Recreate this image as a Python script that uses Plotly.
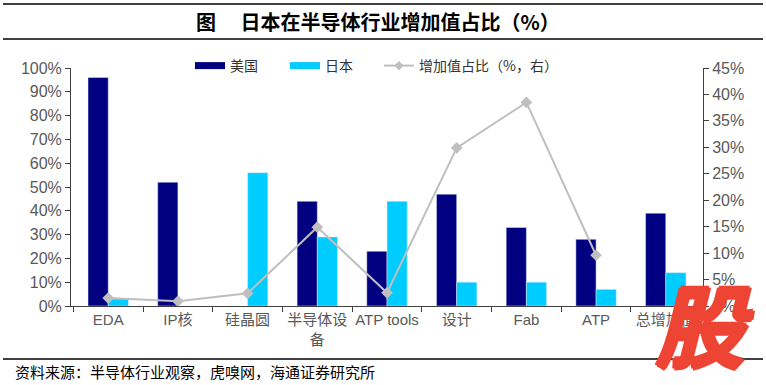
import plotly.graph_objects as go

categories = ["EDA", "IP核", "硅晶圆", "半导体设<br>备", "ATP tools", "设计", "Fab", "ATP", "总增加值"]
us_share = [0.96, 0.52, None, 0.44, 0.23, 0.47, 0.33, 0.28, 0.39]
jp_share = [0.03, None, 0.56, 0.29, 0.44, 0.10, 0.10, 0.07, 0.14]
value_added = [0.015, 0.009, 0.024, 0.149, 0.025, 0.299, 0.385, 0.096, None]
left_ticks = [i / 10 for i in range(11)]
right_ticks = [i / 20 for i in range(10)]

US_C = "#000080"
JP_C = "#00CCFF"
LINE_C = "#BFBFBF"
TXT = "#595959"
CJK = "Noto Sans CJK SC"
LAT = "Liberation Sans, Arial, " + CJK
WM_C = "#EE4433"

L, R, T, B = 71, 63, 68, 79
W, H = 766, 385
PW = W - L - R
PH = H - T - B

def px(x):
    return (x - L) / PW

def py(y):
    return (H - B - y) / PH

fig = go.Figure()
fig.add_trace(go.Bar(x=categories, y=us_share, marker_color=US_C, name="美国", showlegend=False))
fig.add_trace(go.Bar(x=categories, y=jp_share, marker_color=JP_C, name="日本", showlegend=False))
fig.add_trace(go.Scatter(x=categories, y=value_added, yaxis="y2", mode="lines+markers",
                         line=dict(color=LINE_C, width=2),
                         marker=dict(symbol="diamond", size=9, color=LINE_C),
                         name="增加值占比（%，右）", showlegend=False))
# legend entries
fig.add_trace(go.Scatter(x=[None], y=[None], mode="lines", line=dict(color=US_C, width=7),
                         name="美国", legend="legend"))
fig.add_trace(go.Scatter(x=[None], y=[None], mode="lines", line=dict(color=JP_C, width=7),
                         name="日本", legend="legend2"))
fig.add_trace(go.Scatter(x=[None], y=[None], mode="lines+markers", line=dict(color=LINE_C, width=2),
                         marker=dict(symbol="diamond", size=7, color=LINE_C),
                         name="增加值占比（%，右）", legend="legend3"))

leg_common = dict(orientation="h", xanchor="left", y=py(66), yanchor="middle",
                  font=dict(family=CJK, size=14, color="#333333"), bgcolor="rgba(0,0,0,0)")

fig.update_layout(
    width=W, height=H,
    margin=dict(l=L, r=R, t=T, b=B, autoexpand=False),
    paper_bgcolor="white", plot_bgcolor="white",
    barmode="group", bargap=0.42, bargroupgap=0,
    font=dict(family=LAT, color=TXT, size=13),
    xaxis=dict(type="category", tickson="boundaries", ticks="outside", ticklen=5, tickangle=0,
               tickcolor="#404040", showline=True, linecolor="#404040", linewidth=1,
               tickfont=dict(family=LAT, size=15, color=TXT), showgrid=False),
    yaxis=dict(range=[0, 1], tickvals=left_ticks, tickformat=".0%", ticks="outside", ticklen=5,
               tickcolor="#404040", showline=True, linecolor="#404040", linewidth=1,
               showgrid=False, zeroline=False, tickfont=dict(family=LAT, size=16, color=TXT)),
    yaxis2=dict(range=[0, 0.45], tickvals=right_ticks, tickformat=".0%", overlaying="y", side="right",
                ticks="outside", ticklen=5, tickcolor="#404040", showline=True, linecolor="#404040",
                linewidth=1, showgrid=False, zeroline=False, tickfont=dict(family=LAT, size=16, color=TXT)),
    legend=dict(x=px(190), **leg_common),
    legend2=dict(x=px(285), **leg_common),
    legend3=dict(x=px(379), **leg_common),
    showlegend=True,
)

shapes = []
for y in (4, 39, 359):
    shapes.append(dict(type="line", xref="paper", yref="paper", x0=px(3), x1=px(763),
                       y0=py(y), y1=py(y), line=dict(color="black", width=1.5)))
fig.update_layout(shapes=shapes)

fig.add_annotation(text="<b>图　 日本在半导体行业增加值占比（%）</b>", xref="paper", yref="paper",
                   x=px(378), y=py(21), xanchor="center", yanchor="middle", showarrow=False,
                   font=dict(family=CJK, size=20, color="black"))
fig.add_annotation(text="资料来源：半导体行业观察，虎嗅网，海通证券研究所", xref="paper", yref="paper",
                   x=px(13), y=py(371), xanchor="left", yanchor="middle", showarrow=False,
                   font=dict(family=CJK, size=15, color="black"))
fig.add_annotation(text="<b>股</b>", xref="paper", yref="paper", x=px(704), y=py(322),
                   xanchor="center", yanchor="middle", showarrow=False,
                   font=dict(family=CJK, size=90, color=WM_C, style="italic",
                             shadow="2px 0 0 %s, -2px 0 0 %s, 0 2px 0 %s, 0 -2px 0 %s" % (WM_C, WM_C, WM_C, WM_C)))

fig.write_html("out.html", config={"displayModeBar": False},
               post_script="document.body.style.margin='0';document.body.style.overflow='hidden';")
